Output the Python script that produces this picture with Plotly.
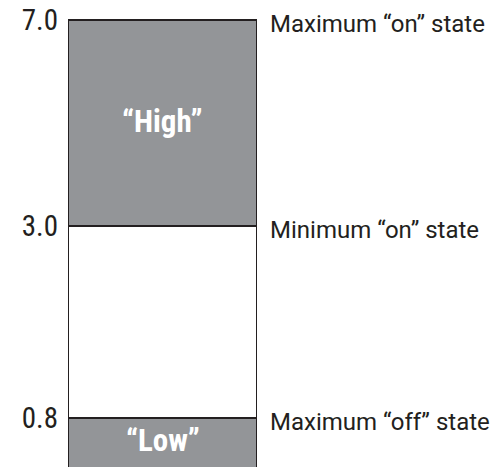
import plotly.graph_objects as go

# ---- data ----
levels = [7.0, 3.0, 0.8]                       # threshold voltages (tick labels)
level_labels = ["7.0", "3.0", "0.8"]
state_labels = ["Maximum \u201con\u201d state", "Minimum \u201con\u201d state", "Maximum \u201coff\u201d state"]
band_names = ["\u201cHigh\u201d", "", "\u201cLow\u201d"]

# ---- schematic (non-linear) placement of the levels on the drawing ----
level_pos = [447, 241, 49]      # vertical position of each level on the diagram
bottom_pos = -10                # the low band runs off the bottom edge
name_pos = [346, None, 27]      # where the band names sit

GRAY = "#939598"
INK = "#231f20"
FONT = "Liberation Sans Narrow, Roboto Condensed, DejaVu Sans Condensed, Roboto, sans-serif"
FONT2 = "Roboto, Liberation Sans, Arial, sans-serif"

W, H = 491, 459   # page body adds an 8px margin

band_bottom = [level_pos[1], level_pos[2], bottom_pos]
band_top = [level_pos[0], level_pos[1], level_pos[2]]
band_fill = [GRAY, "white", GRAY]

fig = go.Figure()
for b0, b1, col in zip(band_bottom, band_top, band_fill):
    fig.add_trace(go.Bar(
        x=[0], y=[b1 - b0], base=[b0], width=1,
        marker=dict(color=col, line=dict(color=INK, width=2)),
        hoverinfo="skip", showlegend=False,
    ))

for name, yp in zip(band_names, name_pos):
    if name:
        fig.add_annotation(x=0, y=yp, xref="x", yref="y", text="<b>" + name + "</b>",
                           showarrow=False, yanchor="middle",
                           font=dict(family=FONT, size=31, color="white"))

for lab, yp in zip(state_labels, level_pos):
    fig.add_annotation(x=0.5, y=yp, xref="x", yref="y", text=lab,
                       showarrow=False, xanchor="left", yanchor="middle",
                       xshift=11, yshift=-4,
                       font=dict(family=FONT2, size=24, color=INK))

fig.update_layout(
    width=W, height=H,
    margin=dict(l=0, r=0, t=0, b=0),
    paper_bgcolor="white", plot_bgcolor="white",
    barmode="overlay", bargap=0,
    xaxis=dict(domain=[60 / W, 249 / W], range=[-0.5, 0.5], visible=False, fixedrange=True),
    yaxis=dict(range=[0, H], tickvals=level_pos, ticktext=level_labels, automargin=False,
               ticklabeloverflow="allow",
               showgrid=False, zeroline=False, showline=False, ticks="",
               tickfont=dict(family=FONT, size=29, color=INK), ticklabelstandoff=9),
)

fig.write_html("out.html")
